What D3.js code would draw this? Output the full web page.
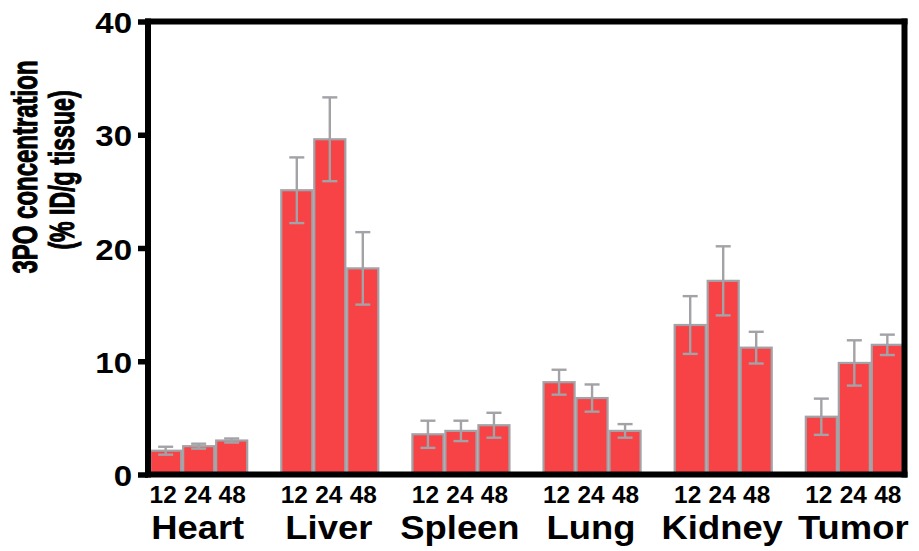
<!DOCTYPE html>
<html>
<head>
<meta charset="utf-8">
<script src="https://cdn.jsdelivr.net/npm/d3@7"></script>
<style>
  html, body { margin: 0; padding: 0; background: #fff; }
  svg { display: block; }
  text { font-family: Arial, "Liberation Sans", Helvetica, sans-serif; font-weight: bold; fill: #000; }
</style>
</head>
<body>
<svg id="chart" width="919" height="551"></svg>
<script>
// Organ groups and sampling time points (hours)
const organs = ["Heart", "Liver", "Spleen", "Lung", "Kidney", "Tumor"];
const hours = ["12", "24", "48"];
// Mean concentration (% ID/g tissue) per organ at 12, 24, 48 h
const meanValues = [
  [2.1, 2.5, 3.0],     // Heart
  [25.1, 29.6, 18.2],  // Liver
  [3.55, 3.85, 4.35],  // Spleen
  [8.15, 6.75, 3.85],  // Lung
  [13.2, 17.1, 11.2],  // Kidney
  [5.1, 9.85, 11.45]   // Tumor
];
// Error (± SD) per organ at 12, 24, 48 h
const errValues = [
  [0.35, 0.22, 0.18],
  [2.9, 3.7, 3.2],
  [1.2, 0.9, 1.1],
  [1.1, 1.2, 0.6],
  [2.55, 3.05, 1.4],
  [1.6, 2.0, 0.9]
];
const yTicks = [0, 10, 20, 30, 40];

const svg = d3.select("#chart");

const plot = { left: 148, right: 904.5, top: 21.5, bottom: 474.5 };
const barFill = "#f74246";
const grey = "#a2a2a7";
const sx = 1.1; // horizontal stretch of the lettering

const x0 = d3.scaleBand().domain(organs).range([149.5, 903.5]).paddingInner(0.25).paddingOuter(0);
const x1 = d3.scaleBand().domain(hours).range([0, x0.bandwidth()]).paddingInner(0.06).paddingOuter(0.02);
const y = d3.scaleLinear().domain([0, 40]).range([plot.bottom, plot.top]);

const rows = [];
organs.forEach((o, i) => hours.forEach((h, j) => rows.push({ organ: o, hour: h, j, v: meanValues[i][j], e: errValues[i][j] })));

// Bars
svg.append("g").selectAll("rect").data(rows).join("rect")
  .attr("x", d => x0(d.organ) + x1(d.hour))
  .attr("y", d => y(d.v))
  .attr("width", x1.bandwidth())
  .attr("height", d => y(0) - y(d.v))
  .attr("fill", barFill)
  .attr("stroke", grey)
  .attr("stroke-width", 2.2);

// Error bars
const eb = svg.append("g").attr("stroke", grey).attr("stroke-width", 2.4).attr("fill", "none");
const cx = d => x0(d.organ) + x1(d.hour) + x1.bandwidth() / 2;
eb.selectAll("line.v").data(rows).join("line").attr("class", "v")
  .attr("x1", cx).attr("x2", cx)
  .attr("y1", d => y(d.v + d.e)).attr("y2", d => y(d.v - d.e));
eb.selectAll("line.t").data(rows).join("line").attr("class", "t")
  .attr("x1", d => cx(d) - 7.5).attr("x2", d => cx(d) + 7.5)
  .attr("y1", d => y(d.v + d.e)).attr("y2", d => y(d.v + d.e));
eb.selectAll("line.b").data(rows).join("line").attr("class", "b")
  .attr("x1", d => cx(d) - 7.5).attr("x2", d => cx(d) + 7.5)
  .attr("y1", d => y(d.v - d.e)).attr("y2", d => y(d.v - d.e));

// Frame (left axis, top, right, baseline)
const frame = svg.append("g").attr("stroke", "#000").attr("stroke-width", 6).attr("stroke-linecap", "square");
frame.append("line").attr("x1", plot.left).attr("x2", plot.left).attr("y1", plot.top).attr("y2", plot.bottom);
frame.append("line").attr("x1", plot.left).attr("x2", plot.right).attr("y1", plot.top).attr("y2", plot.top);
frame.append("line").attr("x1", plot.right).attr("x2", plot.right).attr("y1", plot.top).attr("y2", plot.bottom);
frame.append("line").attr("x1", plot.left).attr("x2", plot.right).attr("y1", plot.bottom).attr("y2", plot.bottom);

// Y axis ticks and labels
const yAxis = d3.axisLeft(y).tickValues(yTicks).tickSize(10).tickSizeOuter(0).tickPadding(6).tickFormat(d3.format("d"));
const ga = svg.append("g").attr("transform", `translate(${plot.left},0)`).call(yAxis);
ga.select(".domain").remove();
ga.selectAll(".tick line").attr("stroke", "#000").attr("stroke-width", 5.5);
ga.selectAll(".tick text")
  .attr("x", null).attr("dy", null)
  .attr("font-size", 30)
  .attr("text-anchor", "end")
  .attr("transform", `translate(-16,11) scale(${sx},1)`);

// Time-point labels under each bar, spread slightly wider than the bars
const labelSpread = 1.5;
svg.append("g").selectAll("text").data(rows).join("text")
  .attr("transform", d => `translate(${cx(d) + (d.j - 1) * labelSpread - 1},503) scale(1.04,1)`)
  .attr("text-anchor", "middle")
  .attr("font-size", 23.5)
  .text(d => d.hour);

// Organ labels
svg.append("g").selectAll("text").data(organs).join("text")
  .attr("transform", d => `translate(${x0(d) + x0.bandwidth() / 2 - 1},538.5) scale(${sx + 0.02},1)`)
  .attr("text-anchor", "middle")
  .attr("font-size", 32.5)
  .text(d => d);

// Y axis title (two lines), tall condensed lettering
const titleLines = [
  { text: "3PO concentration", x: 37, y: 167, squeeze: 0.695 },
  { text: "(% ID/g tissue)", x: 74, y: 170, squeeze: 0.67 }
];
svg.append("g").selectAll("text").data(titleLines).join("text")
  .attr("transform", d => `translate(${d.x},${d.y}) rotate(-90) scale(${d.squeeze},1)`)
  .attr("text-anchor", "middle")
  .attr("font-size", 34.5)
  .attr("stroke", "#000")
  .attr("stroke-width", 1.1)
  .text(d => d.text);
</script>
</body>
</html>
